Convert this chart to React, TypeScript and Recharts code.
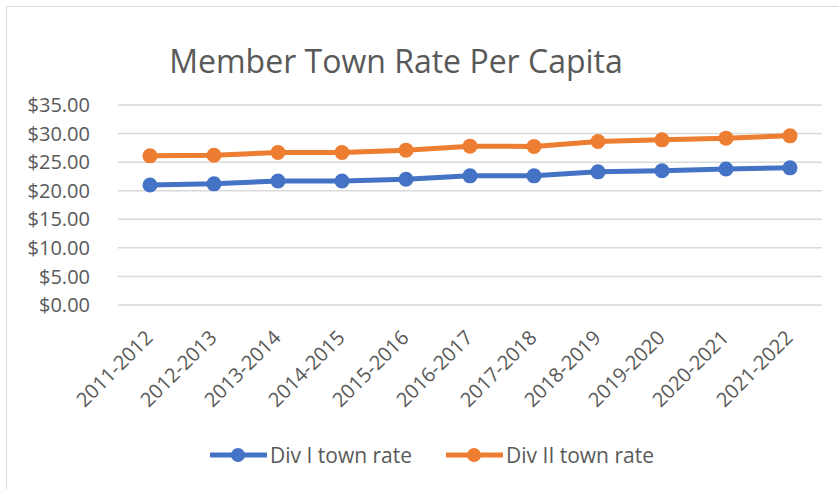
import { LineChart, Line, XAxis, YAxis, CartesianGrid, Legend } from 'recharts';

const seasons = [
  '2011-2012', '2012-2013', '2013-2014', '2014-2015', '2015-2016', '2016-2017',
  '2017-2018', '2018-2019', '2019-2020', '2020-2021', '2021-2022',
];
const divOne = [21.0, 21.2, 21.7, 21.7, 22.0, 22.6, 22.6, 23.3, 23.5, 23.8, 24.0];
const divTwo = [26.1, 26.2, 26.7, 26.7, 27.1, 27.8, 27.75, 28.6, 28.9, 29.2, 29.6];
const yTicks = [0, 5, 10, 15, 20, 25, 30, 35];

const BLUE = '#4472C4';
const ORANGE = '#ED7D31';
const TEXT = '#595959';
const FONT = '"Open Sans", sans-serif';

const data = seasons.map((s, i) => ({ season: s, div1: divOne[i], div2: divTwo[i] }));

const series = [
  { key: 'div1', name: 'Div I town rate', color: BLUE },
  { key: 'div2', name: 'Div II town rate', color: ORANGE },
];

function SeasonTick({ x, y, payload }: any) {
  return (
    <g transform={`translate(${x + 4},${y + 32})`}>
      <text textAnchor="end" transform="rotate(-45)" fill={TEXT} fontSize={20} fontFamily={FONT}>
        {payload.value}
      </text>
    </g>
  );
}

function LegendBox() {
  return (
    <div style={{ display: 'flex', alignItems: 'center', fontFamily: FONT, fontSize: 21, color: TEXT, whiteSpace: 'nowrap' }}>
      {series.map((s, i) => (
        <div key={s.key} style={{ display: 'flex', alignItems: 'center', marginLeft: i ? 34 : 0 }}>
          <svg width={57} height={16}>
            <line x1={1} y1={8} x2={56} y2={8} stroke={s.color} strokeWidth={5} strokeLinecap="round" />
            <circle cx={28} cy={8} r={7} fill={s.color} />
          </svg>
          <span style={{ marginLeft: 3 }}>{s.name}</span>
        </div>
      ))}
    </div>
  );
}

export default function App() {
  return (
    <div style={{ position: 'relative', width: 839, height: 489, overflow: 'hidden', background: '#fff' }}>
      <style>{`body{margin:0}`}</style>
      <div style={{ position: 'absolute', left: 6, top: 6, width: 900, height: 600, border: '1px solid #d9d9d9' }} />
      <div style={{ position: 'absolute', left: 0, top: 39, width: 792, textAlign: 'center', fontFamily: FONT, fontSize: 32, color: TEXT, lineHeight: '44px' }}>
        Member Town Rate Per Capita
      </div>
      <LineChart width={839} height={489} data={data} margin={{ top: 105, right: 17, left: 0, bottom: 0 }}>
        <CartesianGrid vertical={false} stroke="#d9d9d9" strokeWidth={1.5} />
        <XAxis
          dataKey="season"
          axisLine={false}
          tickLine={false}
          tickSize={0}
          height={144}
          interval={0}
          padding={{ left: 32, right: 32 }}
          tick={<SeasonTick />}
        />
        <YAxis
          domain={[0, 35]}
          ticks={yTicks}
          width={118}
          axisLine={false}
          tickLine={false}
          tickSize={0}
          tickMargin={28}
          tickFormatter={(v: number) => `$${v.toFixed(2)}`}
          tick={{ fill: TEXT, fontSize: 20, fontFamily: FONT }}
        />
        <Legend verticalAlign="bottom" height={40} wrapperStyle={{ left: 210, top: 441, width: 'auto' }} content={<LegendBox />} />
        {series.map((s) => (
          <Line
            key={s.key}
            dataKey={s.key}
            name={s.name}
            stroke={s.color}
            strokeWidth={5}
            dot={{ r: 7.5, fill: s.color, stroke: s.color, strokeWidth: 0 }}
            isAnimationActive={false}
          />
        ))}
      </LineChart>
    </div>
  );
}
